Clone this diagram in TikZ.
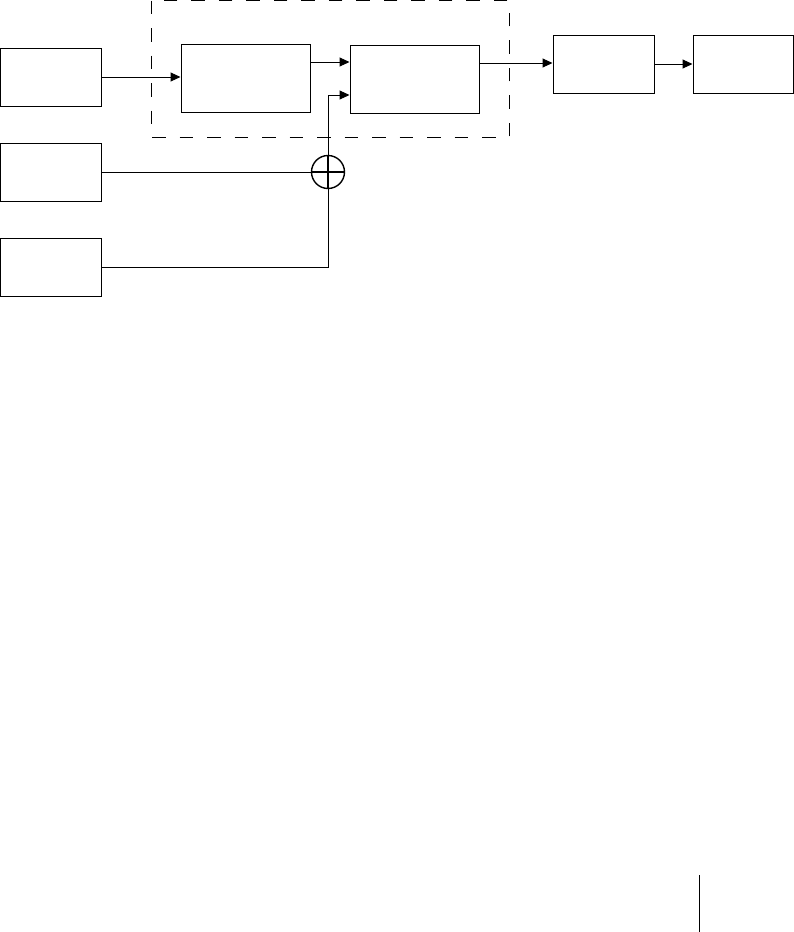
\documentclass[tikz,border=0pt]{standalone}
\usetikzlibrary{arrows.meta}

\begin{document}
\begin{tikzpicture}[x=1pt, y=-1pt, line width=1pt, >={Triangle[length=10pt,width=9pt]},
  blk/.style={draw, rectangle, inner sep=0pt, minimum width=101pt, minimum height=58pt},
  sumnode/.style={draw, circle, inner sep=0pt, minimum size=33pt, line width=1.4pt}]
  \useasboundingbox (0,0) rectangle (794,932);
  % dashed group
  \draw[dash pattern=on 13.5pt off 14pt] (151,0.6) rectangle (509,137);
  % blocks
  \node[blk] (A) at (50.5,77) {};
  \node[blk] (B) at (50.5,172) {};
  \node[blk] (C) at (50.5,267) {};
  \node[blk, minimum width=129pt, minimum height=68pt] (D) at (245.5,78) {};
  \node[blk, minimum width=129pt, minimum height=68pt] (E) at (414.5,79) {};
  \node[blk] (F) at (603.5,64) {};
  \node[blk, minimum width=100pt] (G) at (743,64) {};
  \node[sumnode] (S) at (328,172) {};
  \draw[line width=1.4pt] (S.north) -- (S.south) (S.west) -- (S.east);
  % connectors
  \coordinate (d1) at ([yshift=16pt]D.east);
  \coordinate (e1) at ([yshift=16pt]E.east);
  \draw[->] (A.east) -- (A.east -| D.west);
  \draw[->] (d1) -- (d1 -| E.west);
  \draw[->] (S.north) |- ([yshift=-16pt]E.west);
  \draw[->] (e1) -- (e1 -| F.west);
  \draw[->] (F) -- (G);
  \draw (B.east) -- (S.west);
  \draw (C.east) -| (S.south);
  % stray mark
  \draw (699,875) -- (699,932);
\end{tikzpicture}
\end{document}
